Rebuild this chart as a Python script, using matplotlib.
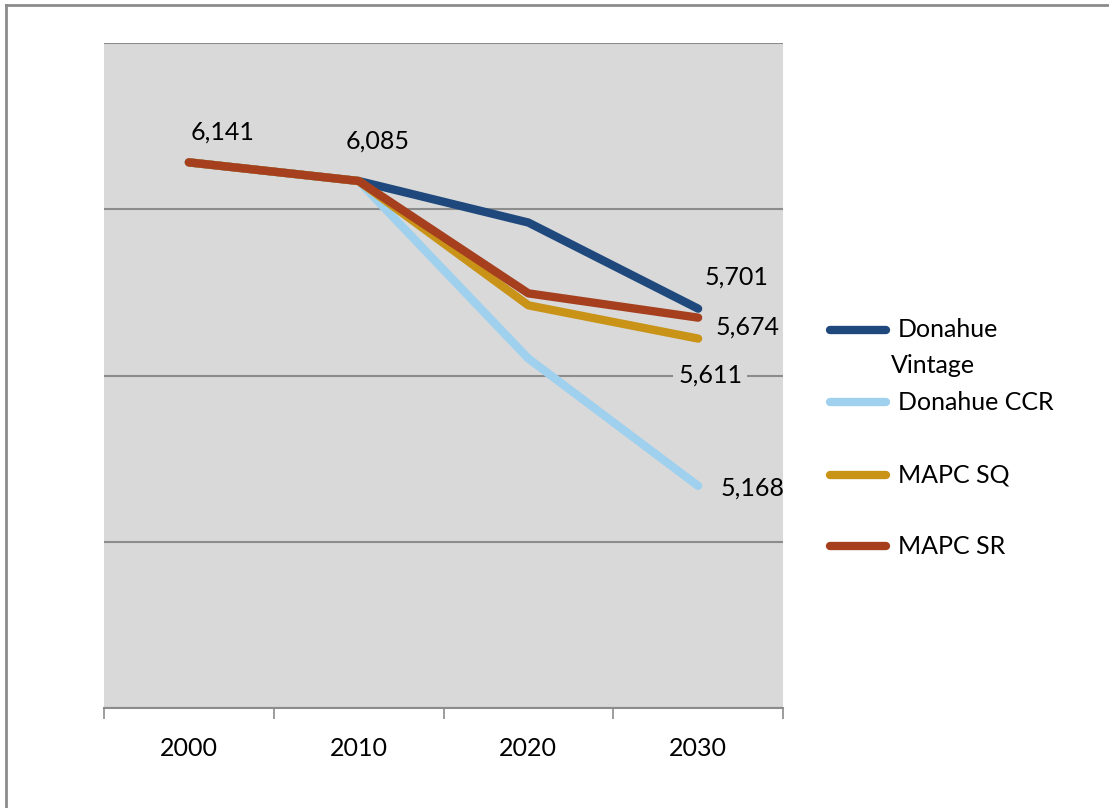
import matplotlib.pyplot as plt
from matplotlib.lines import Line2D

years = ["2000", "2010", "2020", "2030"]
donahue_vintage = [6141, 6085, 5960, 5701]
donahue_ccr = [6141, 6085, 5551, 5168]
mapc_sq = [6141, 6085, 5711, 5611]
mapc_sr = [6141, 6085, 5747, 5674]

series = [
    ("Donahue\nVintage", donahue_vintage, "#1f497d"),
    ("Donahue CCR", donahue_ccr, "#9fd1ee"),
    ("MAPC SQ", mapc_sq, "#c99317"),
    ("MAPC SR", mapc_sr, "#a53f1e"),
]

plt.rcParams["font.family"] = ["Lato", "DejaVu Sans"]
FS = 18

fig = plt.figure(figsize=(11.09, 8.08), dpi=100)
ax = fig.add_axes([104 / 1109, 1 - 708 / 808, 679 / 1109, 665 / 808])
ax.set_facecolor("#d9d9d9")

x = range(len(years))
for name, vals, col in series:
    ax.plot(x, vals, color=col, lw=6, solid_capstyle="round",
            solid_joinstyle="round", zorder=3)

ax.set_xlim(-0.5, 3.5)
ax.set_ylim(4500, 6500)
ax.set_yticks([4500, 5000, 5500, 6000, 6500])
ax.yaxis.grid(True, color="#8c8c8c", lw=1.5)
ax.set_axisbelow(True)
ax.tick_params(axis="y", length=0, labelleft=False)

ax.set_xticks([-0.5, 0.5, 1.5, 2.5, 3.5], minor=False)
ax.set_xticklabels([])
ax.set_xticks(list(x), minor=True)
ax.set_xticklabels(years, minor=True, fontsize=FS)
ax.tick_params(axis="x", which="major", length=8, width=1.2, color="#8c8c8c",
               direction="out")
ax.tick_params(axis="x", which="minor", length=0, pad=21)

for s in ["left", "right", "top"]:
    ax.spines[s].set_visible(False)
ax.spines["bottom"].set_color("#8c8c8c")
ax.spines["bottom"].set_linewidth(1.5)

# data labels (offsets in pixels)
labels = [
    (0, donahue_vintage[0], 34, 30, None),
    (1, donahue_vintage[1], 19, 40, None),
    (3, donahue_vintage[3], 38, 32, None),
    (3, mapc_sr[3], 49, -9, None),
    (3, mapc_sq[3], 12, -36, "#d9d9d9"),
    (3, donahue_ccr[3], 54, -2, None),
]
for xi, v, dx, dy, bg in labels:
    bbox = None
    if bg:
        bbox = dict(boxstyle="square,pad=0.2", fc=bg, ec="none")
    ax.annotate(f"{v:,}", (xi, v), xytext=(dx, dy), textcoords="offset pixels",
                ha="center", va="center", fontsize=FS, bbox=bbox, zorder=4)

# legend
W, H = 1109, 808
legend_rows = [330, 402, 475, 546]
for (name, vals, col), yp in zip(series, legend_rows):
    fy = 1 - yp / H
    fig.add_artist(Line2D([830 / W, 886 / W], [fy, fy], color=col, lw=6,
                          solid_capstyle="round", transform=fig.transFigure))
    first = name.split("\n")[0]
    fig.text(898 / W, fy, first, fontsize=FS, va="center", ha="left")
    if "\n" in name:
        fig.text(891 / W, 1 - 365 / H, name.split("\n")[1], fontsize=FS,
                 va="center", ha="left")

# chart frame
fig.add_artist(Line2D([6 / W, 1], [1 - 5 / H, 1 - 5 / H], color="#8c8c8c",
                      lw=2, transform=fig.transFigure))
fig.add_artist(Line2D([6 / W, 6 / W], [0, 1 - 5 / H], color="#8c8c8c",
                      lw=2, transform=fig.transFigure))

fig.savefig("out.png", dpi=100)
